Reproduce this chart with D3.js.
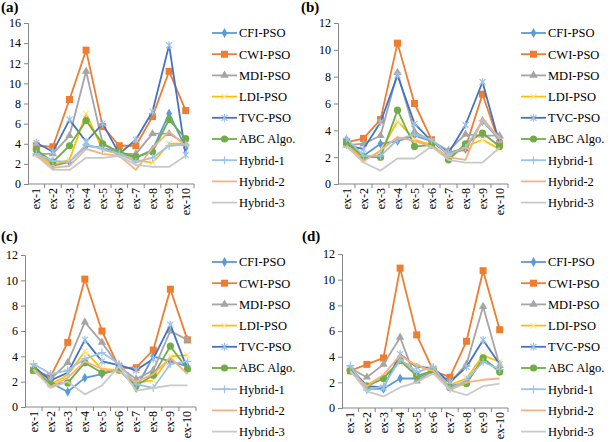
<!DOCTYPE html>
<html>
<head>
<meta charset="utf-8">
<script src="https://cdn.jsdelivr.net/npm/d3@7"></script>
<style>
  body { margin: 0; background: #fff; }
</style>
</head>
<body>
<svg id="chart" width="610" height="442"></svg>
<script>
// Categories and series
var categories = ["ex-1", "ex-2", "ex-3", "ex-4", "ex-5", "ex-6", "ex-7", "ex-8", "ex-9", "ex-10"];
var seriesNames = ["CFI-PSO", "CWI-PSO", "MDI-PSO", "LDI-PSO", "TVC-PSO", "ABC Algo.", "Hybrid-1", "Hybrid-2", "Hybrid-3"];

// Y tick labels
var yTicksA = [0, 2, 4, 6, 8, 10, 12, 14, 16];
var yTicksBCD = [0, 2, 4, 6, 8, 10, 12];

// Values, one row per series (same order as seriesNames)
var valuesA = [
  [3.5, 1.8, 2.2, 3.8, 3.6, 3.1, 2.6, 3.4, 7.0, 3.6],
  [3.8, 3.7, 8.4, 13.3, 5.7, 3.8, 3.8, 6.7, 11.2, 7.3],
  [3.0, 3.0, 4.8, 11.2, 4.0, 3.0, 3.0, 5.0, 5.0, 4.0],
  [3.0, 1.9, 2.4, 7.0, 3.4, 3.0, 2.4, 2.1, 4.0, 4.0],
  [4.1, 3.2, 6.4, 4.2, 6.0, 3.0, 4.4, 7.2, 13.8, 2.9],
  [3.4, 2.2, 3.8, 6.3, 4.0, 3.2, 2.7, 3.2, 6.4, 4.5],
  [3.0, 2.3, 2.2, 3.9, 3.5, 3.0, 2.2, 2.6, 3.8, 3.9],
  [2.9, 1.6, 1.8, 3.5, 3.0, 2.8, 1.4, 3.6, 5.2, 3.8],
  [2.8, 1.4, 1.4, 2.6, 2.6, 2.8, 1.9, 1.7, 1.7, 2.8]
];
var valuesB = [
  [3.3, 2.1, 3.0, 3.2, 3.6, 3.2, 2.2, 2.6, 4.7, 3.3],
  [3.1, 3.4, 4.8, 10.5, 6.0, 3.3, 2.3, 2.7, 6.7, 3.0],
  [2.9, 3.0, 3.6, 8.3, 3.9, 3.2, 2.5, 3.7, 3.6, 3.6],
  [3.0, 1.8, 2.4, 4.7, 3.3, 2.9, 2.0, 2.8, 3.3, 2.6],
  [2.9, 2.6, 4.6, 8.1, 4.5, 3.2, 2.3, 4.4, 7.6, 3.0],
  [3.1, 2.0, 2.0, 5.5, 2.8, 2.9, 1.8, 3.0, 3.8, 2.8],
  [3.4, 2.1, 2.1, 3.3, 3.7, 3.3, 2.2, 2.7, 4.7, 3.4],
  [2.9, 1.7, 2.5, 3.5, 3.2, 2.8, 2.0, 1.8, 4.9, 3.4],
  [2.8, 1.6, 1.0, 1.9, 1.9, 2.8, 1.8, 1.6, 1.6, 2.7]
];
var valuesC = [
  [3.0, 1.9, 1.2, 2.3, 2.6, 3.0, 1.5, 4.0, 3.6, 3.2],
  [2.9, 2.4, 5.1, 10.1, 6.0, 3.1, 3.1, 4.5, 9.3, 5.3],
  [3.0, 2.2, 3.5, 6.7, 5.1, 3.2, 2.2, 2.9, 6.0, 5.3],
  [3.0, 1.8, 2.5, 4.4, 3.0, 2.9, 1.9, 2.1, 4.0, 4.1],
  [3.2, 2.1, 2.7, 5.3, 3.6, 3.3, 2.9, 3.8, 6.5, 3.0],
  [2.9, 1.8, 1.9, 3.5, 2.7, 2.9, 1.7, 2.5, 4.8, 3.0],
  [3.4, 2.6, 2.9, 3.8, 4.3, 3.4, 1.8, 1.5, 3.4, 3.6],
  [2.9, 1.6, 2.3, 3.6, 3.0, 2.8, 2.0, 2.6, 3.9, 2.6],
  [3.0, 1.5, 2.0, 1.0, 1.7, 3.2, 1.3, 1.5, 1.7, 1.7]
];
var valuesD = [
  [3.0, 1.5, 1.5, 2.3, 2.3, 3.0, 1.7, 2.0, 3.8, 2.9],
  [2.9, 3.4, 3.9, 10.9, 5.7, 2.9, 2.4, 5.2, 10.7, 6.1],
  [3.1, 2.4, 3.4, 5.5, 2.1, 2.9, 2.0, 3.4, 7.9, 3.3],
  [3.0, 1.8, 2.5, 3.5, 3.4, 2.8, 1.8, 2.3, 4.1, 3.6],
  [3.1, 1.7, 1.6, 4.2, 3.2, 3.1, 2.0, 3.2, 5.3, 3.4],
  [2.9, 1.7, 2.3, 3.7, 2.5, 2.9, 1.6, 1.9, 3.9, 2.8],
  [3.3, 1.4, 1.7, 3.8, 2.8, 3.2, 1.5, 2.2, 3.6, 3.0],
  [2.8, 1.7, 2.6, 4.1, 3.3, 2.9, 1.4, 2.0, 2.2, 2.3],
  [2.9, 1.3, 0.9, 1.6, 2.0, 2.7, 1.4, 1.0, 1.7, 1.9]
];

// Series styles
var lineColors = ["#5B9BD5", "#ED7D31", "#A5A5A5", "#FFC000", "#4472C4", "#70AD47", "#9DC3E6", "#F4B183", "#C9C9C9"];
var markerColors = ["#5B9BD5", "#ED7D31", "#A5A5A5", "#FFE699", "#9DC3E6", "#70AD47", "#9DC3E6", "#F4B183", "#C9C9C9"];
var markerKinds = ["diamond", "square", "triangle", "cross", "star", "circle", "plus", "none", "none"];

// Panel layout
var panels = [
  {label: "(a)", lx: 1, ly: 12, values: valuesA, ticks: yTicksA, left: 28, right: 194, top: 23, bottom: 184, legX: 212, legY: 33},
  {label: "(b)", lx: 301, ly: 12, values: valuesB, ticks: yTicksBCD, left: 338, right: 508, top: 23, bottom: 184, legX: 521, legY: 33},
  {label: "(c)", lx: 1, ly: 241, values: valuesC, ticks: yTicksBCD, left: 25, right: 196, top: 255, bottom: 407, legX: 212, legY: 262},
  {label: "(d)", lx: 302, ly: 241, values: valuesD, ticks: yTicksBCD, left: 342, right: 508, top: 254, bottom: 408, legX: 521, legY: 262}
];

var FONT = "'Liberation Serif', Tinos, 'DejaVu Serif', 'Times New Roman', serif";
var svg = d3.select("#chart").attr("font-family", FONT);
var axisColor = "#868686";

// Draw one marker at (0,0) inside g
function drawMarker(g, kind, color) {
  if (kind == "diamond") {
    g.append("path").attr("d", d3.symbol(d3.symbolDiamond, 28)()).attr("fill", color);
  } else if (kind == "square") {
    g.append("path").attr("d", d3.symbol(d3.symbolSquare, 49)()).attr("fill", color);
  } else if (kind == "triangle") {
    g.append("path").attr("d", d3.symbol(d3.symbolTriangle, 30)()).attr("fill", color);
  } else if (kind == "circle") {
    g.append("circle").attr("r", 3.6).attr("fill", color);
  } else if (kind == "cross") {
    g.append("path").attr("d", "M-3,-3L3,3M-3,3L3,-3").attr("stroke", color).attr("stroke-width", 1.2);
  } else if (kind == "star") {
    g.append("path").attr("d", "M-3,-3L3,3M-3,3L3,-3M0,-4L0,4").attr("stroke", color).attr("stroke-width", 1.2);
  } else if (kind == "plus") {
    g.append("path").attr("d", "M-4,0L4,0M0,-4L0,4").attr("stroke", color).attr("stroke-width", 1.2);
  }
}

panels.forEach(function(p) {
  var x = d3.scaleBand().domain(categories).range([p.left, p.right]);
  var y = d3.scaleLinear().domain([0, d3.max(p.ticks)]).range([p.bottom, p.top]);

  // Panel label
  svg.append("text")
    .attr("x", p.lx).attr("y", p.ly)
    .attr("font-family", FONT)
    .attr("font-size", 15).attr("font-weight", "bold")
    .text(p.label);

  // Y axis
  var yAxis = d3.axisLeft(y).tickValues(p.ticks).tickSize(4).tickPadding(3);
  var gy = svg.append("g").attr("transform", "translate(" + p.left + ",0)").call(yAxis)
    .attr("font-family", FONT).attr("font-size", 12);
  gy.select(".domain").attr("stroke", axisColor);
  gy.selectAll(".tick line").attr("stroke", axisColor);
  gy.selectAll(".tick text").attr("fill", "#000");

  // X axis line and ticks between categories
  var gx = svg.append("g");
  gx.append("line")
    .attr("x1", p.left).attr("x2", p.right)
    .attr("y1", p.bottom).attr("y2", p.bottom)
    .attr("stroke", axisColor);
  gx.selectAll(".xt").data(categories).enter().append("line")
    .attr("x1", d => x(d) + x.bandwidth()).attr("x2", d => x(d) + x.bandwidth())
    .attr("y1", p.bottom).attr("y2", p.bottom + 4)
    .attr("stroke", axisColor);
  gx.selectAll(".xl").data(categories).enter().append("text")
    .attr("transform", d => "translate(" + (x(d) + x.bandwidth() / 2 + 4) + "," + (p.bottom + 4) + ") rotate(-90)")
    .attr("text-anchor", "end")
    .attr("font-family", FONT)
    .attr("font-size", 12)
    .text(d => d);

  // Series lines
  var line = d3.line()
    .x((d, i) => x(categories[i]) + x.bandwidth() / 2)
    .y(d => y(d));

  p.values.forEach(function(vals, s) {
    svg.append("path")
      .attr("d", line(vals))
      .attr("fill", "none")
      .attr("stroke", lineColors[s])
      .attr("stroke-width", 1.8)
      .attr("stroke-linejoin", "round");
    vals.forEach(function(v, i) {
      var g = svg.append("g")
        .attr("transform", "translate(" + (x(categories[i]) + x.bandwidth() / 2) + "," + y(v) + ")");
      drawMarker(g, markerKinds[s], markerColors[s]);
    });
  });

  // Legend
  seriesNames.forEach(function(name, s) {
    var ly = p.legY + s * 21.2;
    svg.append("line")
      .attr("x1", p.legX).attr("x2", p.legX + 25)
      .attr("y1", ly).attr("y2", ly)
      .attr("stroke", lineColors[s]).attr("stroke-width", 1.8);
    var g = svg.append("g").attr("transform", "translate(" + (p.legX + 12.5) + "," + ly + ")");
    drawMarker(g, markerKinds[s], markerColors[s]);
    svg.append("text")
      .attr("x", p.legX + 27).attr("y", ly)
      .attr("dy", "0.35em")
      .attr("font-family", FONT)
      .attr("font-size", 12.5)
      .text(name);
  });
});
</script>
</body>
</html>
